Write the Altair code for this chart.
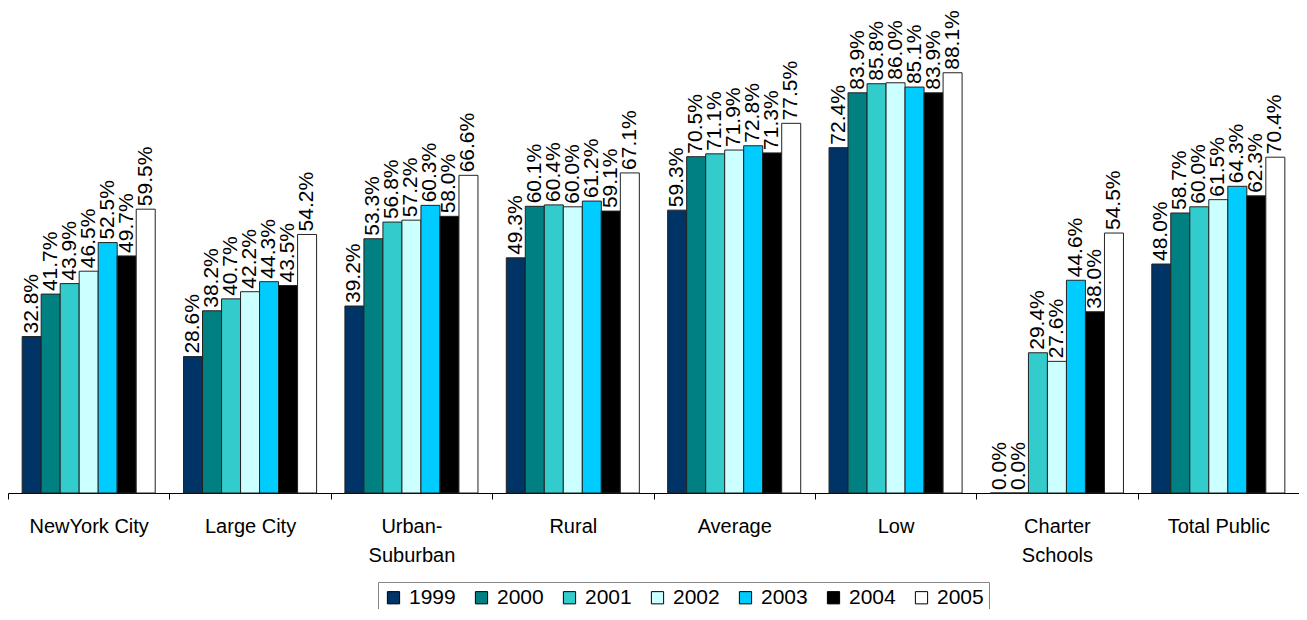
import altair as alt
import pandas as pd

categories = ["NewYork City", "Large City", "Urban-Suburban", "Rural",
              "Average", "Low", "Charter Schools", "Total Public"]
years = ["1999", "2000", "2001", "2002", "2003", "2004", "2005"]
colors = ["#003366", "#008080", "#33CCCC", "#CCFFFF", "#00CCFF", "#000000", "#FFFFFF"]

v1999 = [32.8, 28.6, 39.2, 49.3, 59.3, 72.4, 0.0, 48.0]
v2000 = [41.7, 38.2, 53.3, 60.1, 70.5, 83.9, 0.0, 58.7]
v2001 = [43.9, 40.7, 56.8, 60.4, 71.1, 85.8, 29.4, 60.0]
v2002 = [46.5, 42.2, 57.2, 60.0, 71.9, 86.0, 27.6, 61.5]
v2003 = [52.5, 44.3, 60.3, 61.2, 72.8, 85.1, 44.6, 64.3]
v2004 = [49.7, 43.5, 58.0, 59.1, 71.3, 83.9, 38.0, 62.3]
v2005 = [59.5, 54.2, 66.6, 67.1, 77.5, 88.1, 54.5, 70.4]

series = [v1999, v2000, v2001, v2002, v2003, v2004, v2005]
rows = []
for y, vals in zip(years, series):
    for c, v in zip(categories, vals):
        rows.append({"cat": c, "year": y, "value": v, "label": f"{v:.1f}%"})
df = pd.DataFrame(rows)

FONT = "Liberation Sans"

label_expr = ("datum.value == 'Urban-Suburban' ? ['Urban-', 'Suburban'] : "
              "datum.value == 'Charter Schools' ? ['Charter', 'Schools'] : datum.value")

x_enc = alt.X("cat:N", sort=categories, title=None,
              scale=alt.Scale(paddingInner=0, paddingOuter=0),
              axis=alt.Axis(labelAngle=0, labelFont=FONT, labelFontSize=20,
                            labelColor="black", domainColor="black", tickColor="black",
                            tickSize=6, tickBand="extent", labelPadding=17,
                            labelExpr=label_expr, labelLineHeight=29))
xo_enc = alt.XOffset("year:N", sort=years,
                     scale=alt.Scale(paddingInner=0, paddingOuter=0.745))
y_enc = alt.Y("value:Q", axis=None, scale=alt.Scale(domain=[0, 100], nice=False))

bars = alt.Chart(df).mark_bar(stroke="#222222", strokeWidth=1).encode(
    x=x_enc, xOffset=xo_enc, y=y_enc,
    color=alt.Color("year:N", sort=years,
                    scale=alt.Scale(domain=years, range=colors),
                    legend=alt.Legend(title=None, orient="none", direction="horizontal",
                                      legendX=370, legendY=566,
                                      labelFont=FONT, labelFontSize=21, labelColor="black",
                                      symbolType="square", symbolSize=150,
                                      symbolStrokeColor="black", symbolStrokeWidth=1,
                                      symbolOpacity=1,
                                      labelOffset=5, columnPadding=15,
                                      strokeColor="#888888", padding=5)),
)

texts = alt.Chart(df).mark_text(angle=270, align="left", baseline="middle", dx=3,
                                font=FONT, fontSize=21, color="black").encode(
    x=alt.X("cat:N", sort=categories), xOffset=alt.XOffset("year:N", sort=years),
    y=alt.Y("value:Q"), text="label:N")

chart = alt.layer(bars, texts).properties(
    width=1291, height=477, background="white",
    autosize=alt.AutoSizeParams(type="none"),
    padding={"left": 0, "top": 8, "right": 0, "bottom": 116},
).configure_view(stroke=None)

chart.save("out.html", embed_options={"renderer": "svg", "actions": False})
